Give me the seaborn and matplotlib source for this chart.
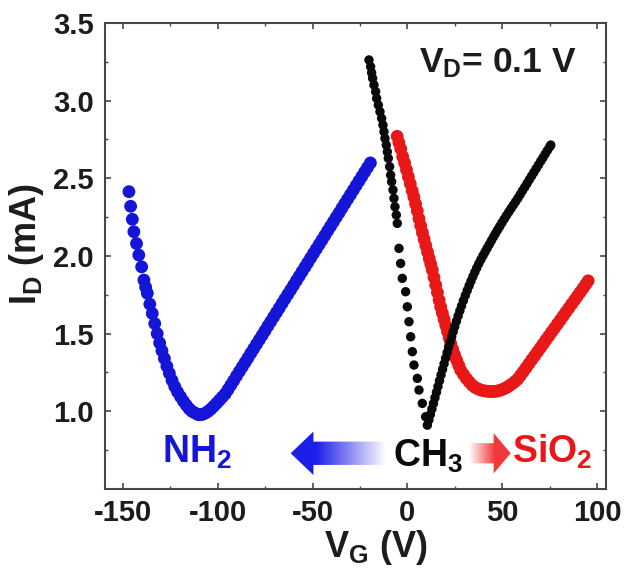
import numpy as np
import pandas as pd
import matplotlib
matplotlib.use('Agg')
import matplotlib.pyplot as plt
import seaborn as sns
from matplotlib.patches import Polygon
from matplotlib.ticker import FixedLocator

# ---------------- data ----------------
nh2_vg = [-146.7, -145.8, -144.9, -144.1, -142.7, -141.5, -140.0, -138.8, -137.9, -137.0,
          -135.7, -134.4, -133.1, -131.8, -130.5, -129.3, -128.0, -126.7, -125.4, -124.0,
          -122.6, -121.1, -119.5, -118.0, -116.5, -115.0, -113.5, -112.0, -110.5, -109.5,
          -108.0, -106.5, -105.0, -103.5, -102.0, -100.5, -99.0, -97.5, -96.0, -94.5,
          -93.0, -91.5, -90.0, -88.5, -87.0, -85.5, -84.0, -82.5, -81.0, -79.5,
          -78.0, -76.5, -75.0, -73.5, -72.0, -70.5, -69.0, -67.5, -66.0, -64.5,
          -63.0, -61.5, -60.0, -58.5, -57.0, -55.5, -54.0, -52.5, -51.0, -49.5,
          -48.0, -46.5, -45.0, -43.5, -42.0, -40.5, -39.0, -37.5, -36.0, -34.5,
          -33.0, -31.5, -30.0, -28.5, -27.0, -25.5, -24.0, -22.5, -21.0, -19.5]
nh2_id = [2.414, 2.32, 2.236, 2.156, 2.08, 2.006, 1.93, 1.845, 1.80, 1.76,
          1.69, 1.63, 1.565, 1.50, 1.44, 1.39, 1.34, 1.29, 1.245, 1.20,
          1.16, 1.125, 1.094, 1.065, 1.04, 1.017, 1.00, 0.99, 0.98, 0.978,
          0.980, 0.988, 1.000, 1.015, 1.033, 1.052, 1.072, 1.092, 1.112, 1.140,
          1.169, 1.198, 1.228, 1.257, 1.286, 1.315, 1.344, 1.374, 1.403, 1.432,
          1.461, 1.490, 1.519, 1.549, 1.578, 1.607, 1.636, 1.665, 1.695, 1.724,
          1.753, 1.782, 1.811, 1.841, 1.870, 1.899, 1.928, 1.957, 1.987, 2.016,
          2.045, 2.074, 2.103, 2.132, 2.162, 2.191, 2.220, 2.249, 2.278, 2.308,
          2.337, 2.366, 2.395, 2.424, 2.454, 2.483, 2.512, 2.541, 2.570, 2.599]

ch3_vg = [-20.26, -19.38, -18.85, -18.33, -17.62, -16.74, -16.22, -15.34, -14.46, -13.58,
          -12.88, -12.36, -11.83, -11.13, -10.60, -10.07, -9.37, -8.84, -8.32, -7.61,
          -7.09, -6.56, -5.86, -5.33, -4.45, -3.58, -2.70, -0.94, -0.06, 0.82,
          1.70, 2.58, 3.45, 5.21, 6.09, 7.84, 9.60, 10.48,
          11.3, 12.1, 12.9, 13.7, 14.5, 15.3, 16.1, 16.9, 17.7, 18.5,
          19.3, 20.1, 20.9, 21.7, 22.5, 23.3, 24.1, 24.9, 25.8, 26.7,
          27.6, 28.5, 29.5, 30.5, 31.5, 32.5, 33.5, 34.5, 35.5, 36.5,
          37.6, 38.7, 39.8, 40.9, 42.0, 43.1, 44.2, 45.3, 46.4, 47.5,
          48.6, 49.8, 51.0, 52.2, 53.4, 54.6, 55.8, 57.0, 58.2, 59.4,
          60.6, 61.8, 63.0, 64.2, 65.4, 66.6, 67.8, 69.0, 70.2, 71.4,
          72.6, 73.8, 75.0, 75.5]
ch3_id = [3.262, 3.219, 3.180, 3.144, 3.101, 3.058, 3.015, 2.972, 2.929, 2.886,
          2.843, 2.800, 2.757, 2.714, 2.671, 2.629, 2.575, 2.521, 2.478, 2.425,
          2.371, 2.317, 2.264, 2.210, 2.049, 1.952, 1.856, 1.770, 1.673, 1.577,
          1.480, 1.384, 1.298, 1.212, 1.137, 1.051, 0.965, 0.911,
          0.945, 0.980, 1.015, 1.050, 1.087, 1.123, 1.160, 1.197, 1.234, 1.270,
          1.306, 1.342, 1.378, 1.413, 1.447, 1.480, 1.513, 1.545, 1.580, 1.614,
          1.647, 1.679, 1.713, 1.746, 1.778, 1.809, 1.839, 1.868, 1.896, 1.923,
          1.951, 1.977, 2.002, 2.026, 2.050, 2.074, 2.098, 2.122, 2.145, 2.168,
          2.190, 2.214, 2.238, 2.261, 2.284, 2.306, 2.328, 2.350, 2.372, 2.396,
          2.420, 2.443, 2.467, 2.491, 2.515, 2.538, 2.562, 2.586, 2.610, 2.633,
          2.657, 2.681, 2.704, 2.714]

sio2_vg = [-5.4, -4.5, -3.5, -2.5, -1.5, -0.5, 0.5, 1.5, 2.5, 3.4,
           4.3, 5.2, 6.1, 7.0, 7.9, 8.8, 9.7, 10.6, 11.5, 12.3,
           13.1, 14.0, 14.9, 15.8, 16.7, 17.5, 18.4, 19.3, 20.2, 21.1,
           22.0, 22.8, 23.8, 24.8, 25.9, 27.0, 28.0, 29.5, 31.0, 32.5,
           34.0, 35.5, 37.0, 38.5, 40.0, 41.5, 43.0, 44.5, 46.0, 47.5,
           49.0, 50.5, 52.0, 53.5, 55.0, 56.5, 58.0, 59.5, 61.0, 62.5,
           64.0, 65.5, 67.0, 68.5, 70.0, 71.5, 73.0, 74.5, 76.0, 77.5,
           79.0, 80.5, 82.0, 83.5, 85.0, 86.5, 88.0, 89.5, 91.0, 92.5,
           94.0, 95.2]
sio2_id = [2.77, 2.73, 2.69, 2.64, 2.60, 2.555, 2.51, 2.465, 2.42, 2.38,
           2.335, 2.29, 2.24, 2.195, 2.15, 2.108, 2.067, 2.025, 1.984, 1.947,
           1.91, 1.862, 1.813, 1.765, 1.716, 1.673, 1.633, 1.593, 1.553, 1.513,
           1.473, 1.437, 1.40, 1.365, 1.33, 1.297, 1.266, 1.238, 1.212, 1.19,
           1.17, 1.155, 1.145, 1.138, 1.133, 1.13, 1.128, 1.127, 1.128, 1.131,
           1.136, 1.143, 1.152, 1.163, 1.176, 1.19, 1.206, 1.23, 1.255, 1.28,
           1.306, 1.332, 1.357, 1.383, 1.408, 1.434, 1.46, 1.485, 1.511, 1.536,
           1.562, 1.587, 1.613, 1.639, 1.664, 1.69, 1.715, 1.741, 1.766, 1.792,
           1.818, 1.84]

x_ticks = [-150, -100, -50, 0, 50, 100]
x_minor = [-125, -75, -25, 25, 75]
y_ticks = [1.0, 1.5, 2.0, 2.5, 3.0, 3.5]
y_minor = [0.75, 1.25, 1.75, 2.25, 2.75, 3.25]
x_tick_labels = ['-150', '-100', '-50', '0', '50', '100']
y_tick_labels = ['1.0', '1.5', '2.0', '2.5', '3.0', '3.5']

# ---------------- style ----------------
sns.set_style('ticks')
plt.rcParams['font.family'] = ['Liberation Sans', 'DejaVu Sans']
plt.rcParams['font.weight'] = 'bold'
plt.rcParams['mathtext.default'] = 'regular'

BLUE = '#1515d8'
RED = '#e81818'
BLACK = '#0a0a0a'
AXC = '#474747'
TXT = '#1c1c1c'

fig = plt.figure(figsize=(6.25, 5.73), dpi=100)
ax = fig.add_axes([0.168, 0.1466, 0.8016, 0.8133])

df_nh2 = pd.DataFrame({'VG': nh2_vg, 'ID': nh2_id})
df_ch3 = pd.DataFrame({'VG': ch3_vg, 'ID': ch3_id})
df_sio2 = pd.DataFrame({'VG': sio2_vg, 'ID': sio2_id})

sns.scatterplot(data=df_nh2, x='VG', y='ID', ax=ax, color=BLUE, s=85,
                linewidth=0, edgecolor='none', zorder=3)
sns.scatterplot(data=df_sio2, x='VG', y='ID', ax=ax, color=RED, s=85,
                linewidth=0, edgecolor='none', zorder=3)
sns.scatterplot(data=df_ch3, x='VG', y='ID', ax=ax, color=BLACK, s=46,
                linewidth=0, edgecolor='none', zorder=4)


# ---------------- gradient arrows ----------------
def grad_arrow(x_tip, x_tail, yc, head_len, head_h, shaft_h, rgb, a_full, a_zero):
    d = 1.0 if x_tail > x_tip else -1.0
    xb = x_tip + d * head_len
    verts = [(x_tip, yc), (xb, yc + head_h / 2), (xb, yc + shaft_h / 2),
             (x_tail, yc + shaft_h / 2), (x_tail, yc - shaft_h / 2),
             (xb, yc - shaft_h / 2), (xb, yc - head_h / 2)]
    patch = Polygon(verts, closed=True, facecolor='none', edgecolor='none',
                    transform=ax.transData)
    ax.add_patch(patch)
    x0, x1 = min(x_tip, x_tail), max(x_tip, x_tail)
    n = 300
    xs = np.linspace(x0, x1, n)
    t = np.clip((xs - a_zero) / (a_full - a_zero), 0, 1)
    img = np.zeros((1, n, 4))
    img[..., 0] = rgb[0]
    img[..., 1] = rgb[1]
    img[..., 2] = rgb[2]
    img[..., 3] = t
    im = ax.imshow(img, extent=[x0, x1, yc - head_h / 2, yc + head_h / 2],
                   aspect='auto', interpolation='bilinear', zorder=2)
    im.set_clip_path(patch)


grad_arrow(-61.5, -11.5, 0.73, 12.0, 0.28, 0.15, (0.12, 0.12, 0.92), -48.0, -11.5)
grad_arrow(54.4, 32.3, 0.73, 9.0, 0.26, 0.13, (0.95, 0.22, 0.22), 46.0, 32.3)

# ---------------- texts ----------------
ax.text(-129.5, 0.667, 'NH$_2$', color=BLUE, fontsize=27, fontweight='bold',
        ha='left', va='baseline', zorder=5)
ax.text(-7.8, 0.641, 'CH$_3$', color=BLACK, fontsize=27, fontweight='bold',
        ha='left', va='baseline', zorder=5)
ax.text(55.0, 0.667, 'SiO$_2$', color=RED, fontsize=27, fontweight='bold',
        ha='left', va='baseline', zorder=5)
ax.text(5.9, 3.18, 'V$_D$= 0.1 V', color=TXT, fontsize=25.5, fontweight='bold',
        ha='left', va='baseline', zorder=5)

# ---------------- axes ----------------
ax.set_xlim(-159.3, 104.6)
ax.set_ylim(0.5, 3.5)
ax.xaxis.set_major_locator(FixedLocator(x_ticks))
ax.xaxis.set_minor_locator(FixedLocator(x_minor))
ax.yaxis.set_major_locator(FixedLocator(y_ticks))
ax.yaxis.set_minor_locator(FixedLocator(y_minor))
ax.set_xticklabels(x_tick_labels)
ax.set_yticklabels(y_tick_labels)

for sp in ax.spines.values():
    sp.set_visible(True)
    sp.set_color(AXC)
    sp.set_linewidth(1.5)

ax.tick_params(which='both', direction='in', top=True, right=True, colors=AXC,
               labelcolor=TXT, labelsize=21)
ax.tick_params(which='major', length=4, width=1.2)
ax.tick_params(which='minor', length=2.5, width=1.0)
ax.tick_params(axis='x', which='major', pad=7.5)
ax.tick_params(axis='y', which='major', pad=8)
for lab in ax.get_xticklabels() + ax.get_yticklabels():
    lab.set_fontweight('bold')

ax.set_xlabel('V$_G$ (V)', fontsize=26, fontweight='bold', color=TXT)
ax.set_ylabel('I$_D$ (mA)', fontsize=26, fontweight='bold', color=TXT)
ax.xaxis.set_label_coords(0.541, -0.084)
ax.yaxis.set_label_coords(-0.117, 0.526)

fig.savefig('out.png', dpi=100)
